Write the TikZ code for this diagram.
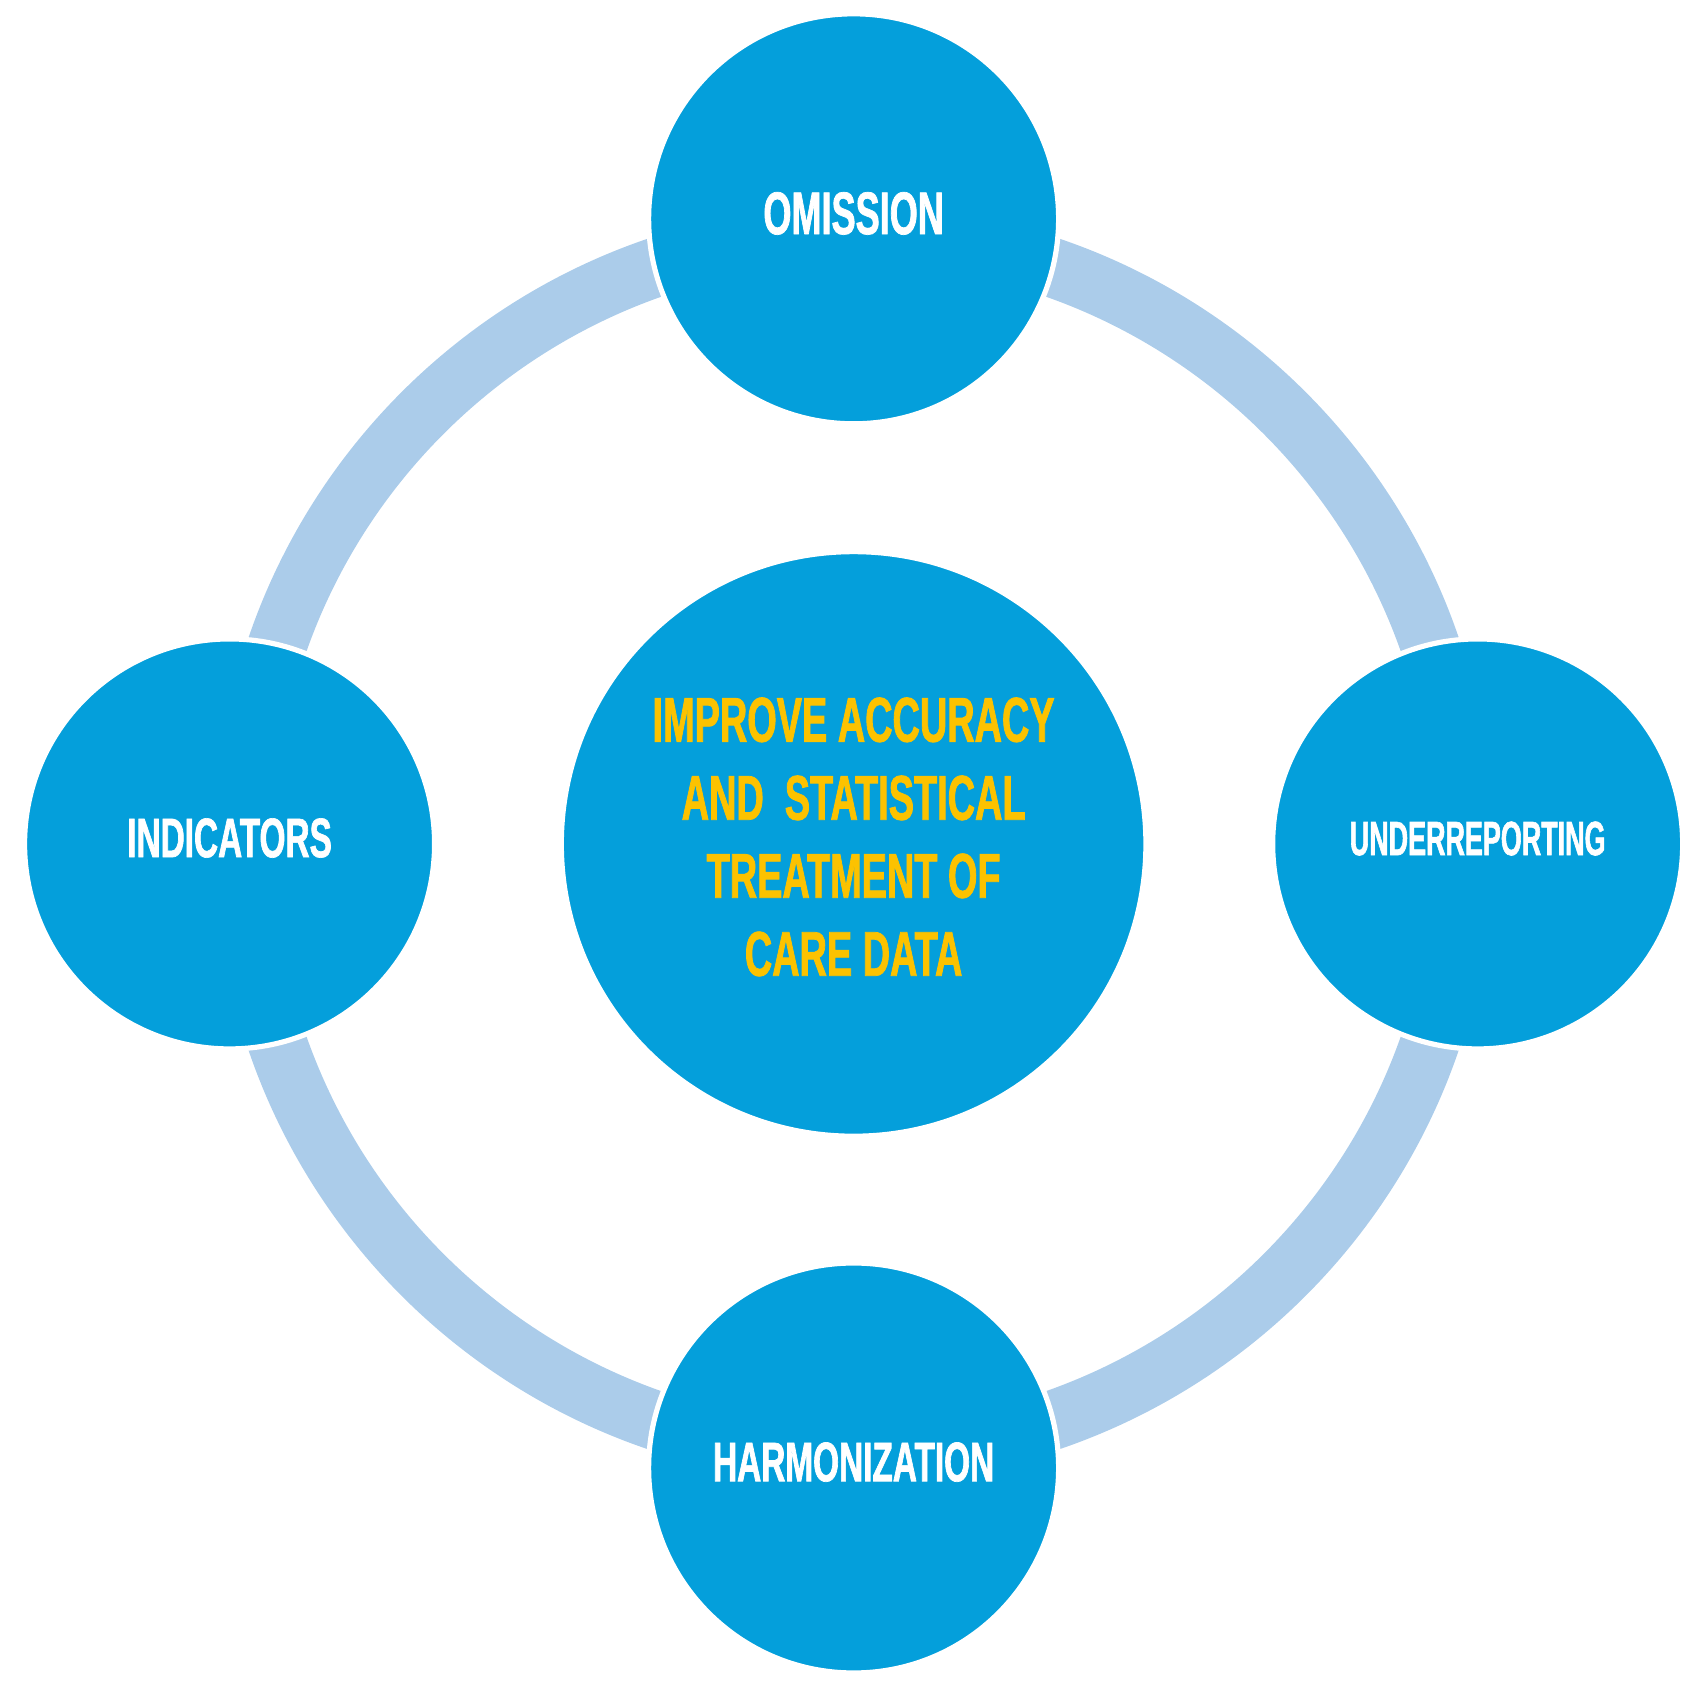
\documentclass[tikz,border=0pt]{standalone}
\usepackage{fontspec}
\newfontfamily\bebas[FakeStretch=0.6,BoldFeatures={FakeStretch=0.6,FakeBold=1.2}]{Liberation Sans}
\newfontfamily\bebasnarrow[FakeStretch=0.56,BoldFeatures={FakeStretch=0.56,FakeBold=1.2}]{Liberation Sans}
\definecolor{circleblue}{RGB}{4,159,219}
\definecolor{ringblue}{RGB}{171,204,234}
\definecolor{goldtext}{RGB}{252,194,0}
\tikzset{
  ringshape/.style={circle, draw=ringblue, line width=27.5pt, minimum size=565.5pt, inner sep=0pt},
  sat/.style={circle, fill=circleblue, draw=white, line width=2.4pt, minimum size=190.2pt, inner sep=0pt},
  hub/.style={circle, fill=circleblue, draw=white, line width=2.4pt, minimum size=271.2pt, inner sep=0pt},
  lbl/.style={text=white, inner sep=0pt},
}
\begin{document}
\begin{tikzpicture}[x=0.5pt,y=-0.5pt]
\useasboundingbox (0,0) rectangle (1568,1563);
\node[ringshape] (ring) at (792,783) {};
\node[sat] (omission) at (792,203) {};
\node[sat] (indicators) at (213,783) {};
\node[sat] (underreporting) at (1371,783) {};
\node[sat] (harmonization) at (792,1362) {};
\node[hub] (hub) at (792,783) {};
\node[lbl, font={\bebas\bfseries\fontsize{27.9pt}{30pt}\selectfont}] (omissiontext) at (792,198) {OMISSION};
\node[lbl, font={\bebas\bfseries\fontsize{25.8pt}{28pt}\selectfont}] (indicatorstext) at (213,777.5) {INDICATORS};
\node[lbl, font={\bebasnarrow\bfseries\fontsize{22.3pt}{24pt}\selectfont}] (underreportingtext) at (1371,778) {UNDERREPORTING};
\node[lbl, font={\bebas\bfseries\fontsize{25.8pt}{28pt}\selectfont}] (harmonizationtext) at (792,1356.5) {HARMONIZATION};
\node[lbl, text=goldtext, align=center, font={\bebas\bfseries\fontsize{29.3pt}{36.2pt}\selectfont}] (hubtext) at (792,776.5) {IMPROVE ACCURACY\\AND \ STATISTICAL\\TREATMENT OF\\CARE DATA};
\end{tikzpicture}
\end{document}
